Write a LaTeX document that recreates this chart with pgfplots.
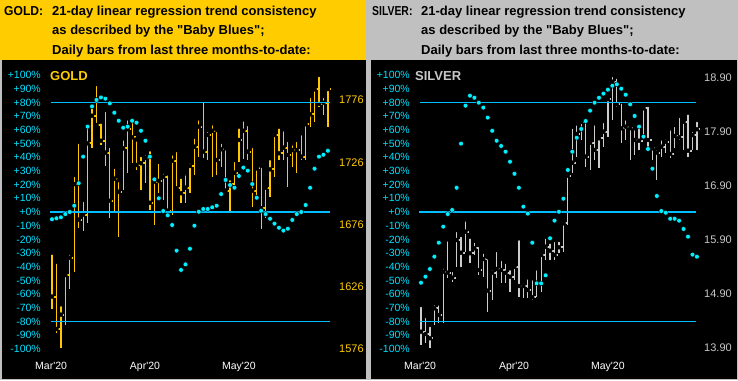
\documentclass[border=0pt]{standalone}
\usepackage{pgfplots}
\pgfplotsset{compat=1.18}
\usepackage{pgfplotstable}
\usepackage{fontspec}
\setmainfont{Liberation Sans}
\definecolor{goldc}{RGB}{255,204,0}
\definecolor{goldbar}{RGB}{255,200,0}
\definecolor{silvbar}{RGB}{205,205,205}
\definecolor{silvtxt}{RGB}{200,200,200}
\definecolor{panelgray}{RGB}{192,192,192}
\definecolor{linec}{RGB}{0,190,255}
\definecolor{dotc}{RGB}{0,240,255}
\definecolor{pctc}{RGB}{0,225,255}

\pgfplotstableread{
i h l c
0 1653.4 1607.9 1618.1
1 1646.1 1588.6 1592.1
2 1611.9 1576.6 1603.6
3 1638.7 1595.3 1635.4
4 1653.4 1624.2 1649.3
5 1715.8 1638.1 1708.5
6 1742.5 1673.2 1679.9
7 1695.7 1671.0 1684.0
8 1754.6 1677.2 1741.2
9 1773.3 1737.2 1763.4
10 1788.9 1754.6 1755.9
11 1758.6 1739.9 1743.3
12 1768.0 1723.0 1733.7
13 1739.1 1681.2 1695.1
14 1722.4 1686.3 1712.8
15 1711.7 1666.2 1702.3
16 1745.2 1703.7 1737.2
17 1761.3 1717.1 1752.5
18 1759.9 1725.2 1746.0
19 1744.4 1719.8 1723.8
20 1731.8 1703.7 1725.2
21 1733.2 1709.1 1729.4
22 1736.4 1687.6 1693.5
23 1713.1 1675.6 1710.4
24 1726.4 1701.1 1711.0
25 1718.4 1695.7 1714.4
26 1717.1 1683.6 1687.1
27 1733.2 1683.6 1727.2
28 1735.8 1703.7 1705.1
29 1714.4 1693.0 1701.1
30 1717.1 1693.0 1705.6
31 1726.4 1701.3 1723.0
32 1746.5 1715.8 1738.5
33 1761.3 1730.5 1754.6
34 1776.0 1729.2 1734.5
35 1751.9 1727.8 1747.9
36 1757.3 1714.4 1751.3
37 1751.9 1715.8 1727.8
38 1742.5 1722.4 1736.4
39 1737.2 1701.1 1703.2
40 1713.1 1685.0 1708.3
41 1727.8 1703.7 1717.6
42 1754.6 1726.4 1743.9
43 1760.5 1728.4 1751.3
44 1756.7 1727.8 1734.5
45 1739.1 1690.3 1703.2
46 1722.4 1697.0 1721.1
47 1723.0 1672.1 1689.0
48 1707.7 1681.2 1705.6
49 1729.2 1698.3 1720.3
50 1749.3 1714.4 1747.9
51 1754.6 1727.8 1733.2
52 1752.5 1727.8 1737.7
53 1743.9 1706.4 1731.8
54 1741.2 1722.4 1735.8
55 1743.9 1717.1 1735.8
56 1749.3 1727.8 1730.5
57 1759.9 1727.8 1756.5
58 1779.2 1754.1 1764.5
59 1786.2 1758.6 1784.6
60 1796.1 1770.6 1772.8
61 1779.2 1764.0 1773.8
62 1785.9 1754.6 1784.8
}\golddata

\pgfplotstableread{
i p
0 -5.3
1 -4.6
2 -3.9
3 -1.5
4 0.0
5 4.6
6 21.0
7 40.4
8 62.3
9 77.1
10 81.8
11 83.6
12 82.7
13 79.3
14 72.5
15 66.6
16 61.5
17 62.3
18 66.6
19 65.2
20 59.3
21 52.0
22 40.4
23 23.8
24 10.0
25 0.7
26 -2.4
27 -9.5
28 -28.2
29 -42.3
30 -38.2
31 -26.8
32 -10.0
33 0.2
34 2.2
35 2.2
36 3.4
37 4.6
38 13.1
39 23.4
40 19.7
41 17.7
42 26.3
43 32.4
44 30.2
45 20.4
46 10.4
47 0.9
48 -1.5
49 -4.9
50 -8.5
51 -11.5
52 -13.6
53 -12.2
54 -5.8
55 -1.5
56 0.0
57 5.1
58 17.7
59 31.6
60 40.4
61 41.8
62 44.7
}\golddots

\pgfplotstableread{
i h l c
0 14.696 13.956 14.202
1 14.493 13.987 14.159
2 14.326 13.894 14.080
3 14.728 14.326 14.635
4 14.728 14.357 14.511
5 15.406 14.357 15.313
6 15.913 15.191 15.294
7 15.344 15.128 15.202
8 16.085 15.406 15.900
9 15.993 15.406 15.665
10 16.283 15.683 16.054
11 15.961 15.469 15.654
12 15.887 15.622 15.746
13 15.807 15.252 15.344
14 15.683 15.220 15.548
15 15.580 14.572 14.961
16 15.376 14.789 15.294
17 15.715 15.191 15.363
18 15.548 15.098 15.344
19 15.498 15.098 15.294
20 15.376 14.943 15.220
21 15.437 15.159 15.406
22 15.931 14.850 15.048
23 15.128 14.820 15.048
24 15.209 14.820 14.974
25 15.191 14.789 14.839
26 15.376 14.850 15.109
27 15.683 14.943 15.622
28 15.961 15.530 15.776
29 15.869 15.530 15.702
30 15.900 15.530 15.622
31 15.900 15.654 15.765
32 16.220 15.683 16.209
33 17.135 16.178 17.091
34 17.998 17.135 17.331
35 18.061 17.443 17.863
36 18.154 17.752 18.085
37 18.122 17.257 17.443
38 17.752 17.196 17.702
39 18.061 17.381 17.567
40 17.844 17.228 17.783
41 18.104 17.628 17.906
42 18.554 17.813 18.506
43 18.956 18.122 18.831
44 18.924 18.369 18.413
45 18.461 17.691 17.969
46 18.154 17.752 17.998
47 18.030 17.381 17.969
48 17.969 17.474 17.752
49 17.998 17.567 17.739
50 18.400 17.783 18.339
51 18.400 17.567 17.752
52 17.628 17.381 17.598
53 17.598 17.011 17.517
54 17.783 17.443 17.628
55 17.802 17.506 17.720
56 17.969 17.413 17.493
57 18.030 17.598 17.826
58 18.196 17.752 17.802
59 18.122 17.567 18.091
60 18.257 17.431 17.554
61 17.937 17.567 17.844
62 18.122 17.567 17.950
}\silvdata

\pgfplotstableread{
i p
0 -51.6
1 -47.2
2 -41.6
3 -32.6
4 -22.4
5 -10.7
6 -1.5
7 1.5
8 17.7
9 49.9
10 77.6
11 84.9
12 83.4
13 79.8
14 76.2
15 68.9
16 59.3
17 52.0
18 48.2
19 44.0
20 36.7
21 27.9
22 17.7
23 3.9
24 -1.2
25 -22.4
26 -52.1
27 -52.1
28 -46.2
29 -19.2
30 -6.3
31 0.2
32 9.7
33 30.7
34 44.0
35 54.2
36 60.6
37 66.4
38 74.0
39 79.8
40 83.4
41 86.4
42 89.3
43 92.2
44 93.2
45 90.0
46 85.6
47 78.6
48 70.1
49 62.3
50 55.0
51 46.0
52 31.6
53 11.7
54 0.7
55 -0.5
56 -4.9
57 -4.9
58 -6.3
59 -12.4
60 -18.0
61 -31.1
62 -32.6
}\silvdots

\pgfplotsset{
  panel/.style={scale only axis, width=367pt, height=320pt,
    xmin=-11.685, xmax=70.787, axis line style={draw=none},
    tick style={draw=none}, major tick length=0pt},
  pctaxis/.style={panel, ymin=-122.63, ymax=110.95,
    ytick={-100,-90,...,100},
    yticklabels={-100\%,-90\%,-80\%,-70\%,-60\%,-50\%,-40\%,-30\%,-20\%,-10\%,+0\%,+10\%,+20\%,+30\%,+40\%,+50\%,+60\%,+70\%,+80\%,+90\%,+100\%},
    yticklabel style={text=pctc, anchor=east, inner sep=0pt, xshift=41pt, font=\fontsize{10.5}{12}\selectfont},
    xtick={-0.2,20.9,42},
    xticklabels={Mar\textquotesingle20,Apr\textquotesingle20,May\textquotesingle20},
    xticklabel style={text=white, anchor=base, inner sep=0pt, yshift=11pt, font=\fontsize{10.5}{12}\selectfont}},
  hl/.style={only marks, mark=none, error bars/.cd, y dir=both, y explicit, error mark=none, error bar style={draw=#1, line width=1.2pt}},
  cl/.style={only marks, mark=none, error bars/.cd, x dir=plus, x fixed=0.8, error mark=none, error bar style={draw=#1, line width=2pt}},
  dots/.style={only marks, mark=*, mark size=2.4pt, mark options={draw=none, fill=dotc}},
  hline/.style={linec, line width=1.2pt, mark=none},
}

\begin{document}
\begin{tikzpicture}
\useasboundingbox (0,0) rectangle (738pt,380pt);
\fill[panelgray] (0,0) rectangle (738pt,380pt);
\fill[black] (1.5pt,1.5pt) rectangle (366pt,320pt);
\fill[black] (371pt,1.5pt) rectangle (736.5pt,320pt);
\fill[goldc] (0,320pt) rectangle (366pt,380pt);

% headers
\begin{scope}[every node/.style={inner sep=0pt, anchor=base west, font=\bfseries\fontsize{13}{15}\selectfont}]
\node at (4pt,364.7pt) {\scalebox{0.93}[1]{GOLD:}};
\node at (52pt,364.7pt) {21-day linear regression trend consistency};
\node at (52pt,345.7pt) {as described by the \textquotedbl Baby Blues\textquotedbl;};
\node at (52pt,325.7pt) {Daily bars from last three months-to-date:};
\node at (372pt,364.7pt) {\scalebox{0.8}[1]{SILVER:}};
\node at (421pt,364.7pt) {21-day linear regression trend consistency};
\node at (421pt,345.7pt) {as described by the \textquotedbl Baby Blues\textquotedbl;};
\node at (421pt,325.7pt) {Daily bars from last three months-to-date:};
\end{scope}

% ---------- GOLD ----------
\begin{axis}[panel, at={(0pt,0pt)}, anchor=south west,
  ymin=1551.10, ymax=1808.13, xtick=\empty,
  ytick={1576,1626,1676,1726,1776}, yticklabels={1576,1626,1676,1726,1776},
  yticklabel pos=right,
  yticklabel style={text=goldc, anchor=west, inner sep=0pt, xshift=-28pt, font=\fontsize{11}{12}\selectfont}]
\addplot[hl=goldbar] table[x=i, y=h, y error plus expr=0, y error minus expr=\thisrow{h}-\thisrow{l}] {\golddata};
\addplot[cl=goldbar] table[x=i, y=c] {\golddata};
\end{axis}
\begin{axis}[pctaxis, at={(0pt,0pt)}, anchor=south west]
\addplot[hline] coordinates {(-0.2,80) (62.4,80)};
\addplot[hline] coordinates {(-0.4,0) (62.4,0)};
\addplot[hline] coordinates {(-0.2,-80) (62.4,-80)};
\addplot[dots] table[x=i, y=p] {\golddots};
\end{axis}
\node[anchor=west, inner sep=0pt, text=goldc, font=\bfseries\fontsize{13}{15}\selectfont] at (50pt,303.7pt) {GOLD};

% ---------- SILVER ----------
\begin{axis}[panel, at={(369pt,0pt)}, anchor=south west,
  ymin=13.3074, ymax=19.2333, xtick=\empty,
  ytick={13.9,14.9,15.9,16.9,17.9,18.9}, yticklabels={13.90,14.90,15.90,16.90,17.90,18.90},
  yticklabel pos=right,
  yticklabel style={text=silvtxt, anchor=west, inner sep=0pt, xshift=-32pt, font=\fontsize{11}{12}\selectfont}]
\addplot[hl=silvbar] table[x=i, y=h, y error plus expr=0, y error minus expr=\thisrow{h}-\thisrow{l}] {\silvdata};
\addplot[cl=silvbar] table[x=i, y=c] {\silvdata};
\end{axis}
\begin{axis}[pctaxis, at={(369pt,0pt)}, anchor=south west]
\addplot[hline] coordinates {(-0.2,80) (61.8,80)};
\addplot[hline] coordinates {(-0.4,0) (61.8,0)};
\addplot[hline] coordinates {(-0.2,-80) (61.8,-80)};
\addplot[dots] table[x=i, y=p] {\silvdots};
\end{axis}
\node[anchor=west, inner sep=0pt, text=silvtxt, font=\bfseries\fontsize{13}{15}\selectfont] at (415pt,303.7pt) {SILVER};
\end{tikzpicture}
\end{document}
